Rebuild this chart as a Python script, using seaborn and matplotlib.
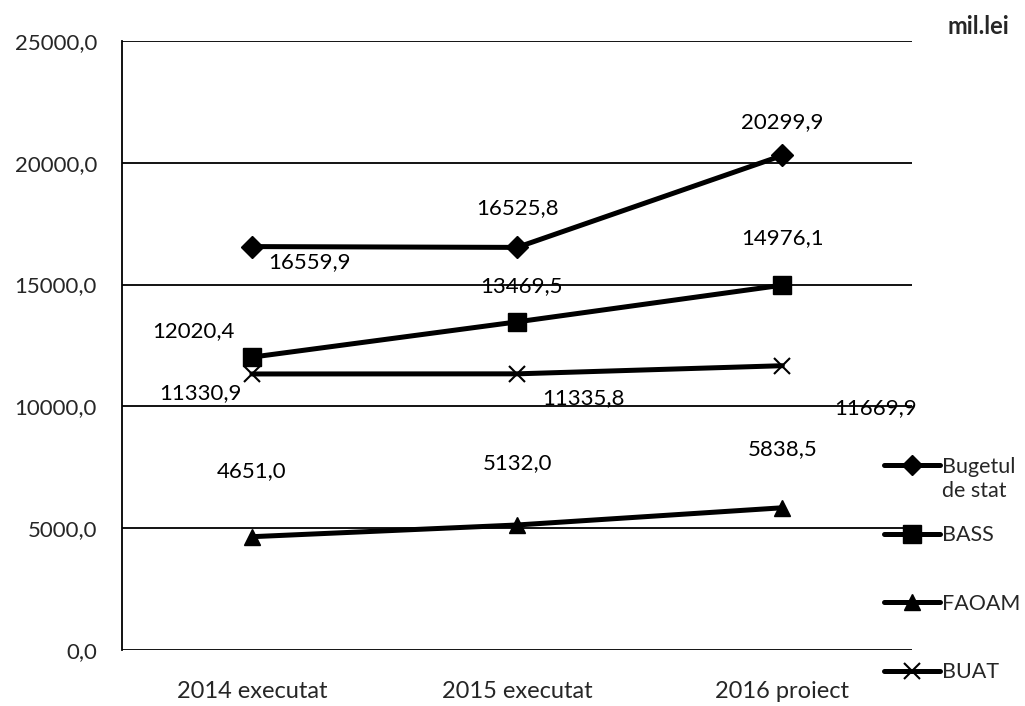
import matplotlib
matplotlib.use("Agg")
import matplotlib.pyplot as plt
import seaborn as sns
import pandas as pd
from matplotlib.lines import Line2D

categories = ["2014 executat", "2015 executat", "2016 proiect"]
bugetul = [16559.9, 16525.8, 20299.9]
bass = [12020.4, 13469.5, 14976.1]
faoam = [4651.0, 5132.0, 5838.5]
buat = [11330.9, 11335.8, 11669.9]
series_names = ["Bugetul de stat", "BASS", "FAOAM", "BUAT"]
yticks = [0, 5000, 10000, 15000, 20000, 25000]
unit_label = "mil.lei"

sns.set_theme(style="white")
plt.rcParams["font.family"] = ["Lato", "DejaVu Sans"]

rows = []
for name, vals in zip(series_names, [bugetul, bass, faoam, buat]):
    for c, v in zip(categories, vals):
        rows.append({"cat": c, "val": v, "series": name})
df = pd.DataFrame(rows)

markers = {"Bugetul de stat": "D", "BASS": "s", "FAOAM": "^", "BUAT": "x"}
msizes = {"Bugetul de stat": 11, "BASS": 13.5, "FAOAM": 12, "BUAT": 12}

fig = plt.figure(figsize=(10.25, 7.06), dpi=100)
ax = fig.add_axes([0.119, 0.0793, 0.771, 0.8627])

for name in series_names:
    sub = df[df.series == name]
    sns.lineplot(data=sub, x="cat", y="val", ax=ax, color="black", linewidth=3.6,
                 marker=markers[name], markersize=msizes[name],
                 markeredgecolor="black", markerfacecolor="black",
                 markeredgewidth=1.5 if name == "BUAT" else 1.0,
                 sort=False, legend=False)

ax.set_ylim(0, 25000)
ax.set_xlim(-0.49, 2.49)
ax.set_yticks(yticks)
ax.set_yticklabels([f"{t:.1f}".replace(".", ",") for t in yticks], fontsize=16)
ax.set_xticks(range(len(categories)))
ax.set_xticklabels(categories, fontsize=17)
ax.tick_params(axis="y", length=0, pad=18)
ax.tick_params(axis="x", length=0, pad=22)
ax.set_xlabel("")
ax.set_ylabel("")
ax.yaxis.grid(True, color="black", linewidth=1.3)
ax.set_axisbelow(True)
for s in ["top", "right", "bottom"]:
    ax.spines[s].set_visible(False)
ax.spines["left"].set_color("black")
ax.spines["left"].set_linewidth(1.3)

def fmt(v):
    return f"{v:.1f}".replace(".", ",")

offsets = {
    "Bugetul de stat": [(58, -16), (0, 39), (0, 33)],
    "BASS": [(-59, 26), (4, 36), (0, 47)],
    "FAOAM": [(0, 66), (0, 62), (0, 59)],
    "BUAT": [(-52, -19), (66, -24), (93, -42)],
}
for name, vals in zip(series_names, [bugetul, bass, faoam, buat]):
    for i, v in enumerate(vals):
        dx, dy = offsets[name][i]
        ax.annotate(fmt(v), (i, v), xytext=(dx, dy), textcoords="offset pixels",
                    ha="center", va="center", fontsize=16, color="black")

handles = [Line2D([], [], color="black", linewidth=3.6, marker=markers[n],
                  markersize=msizes[n] - 1, markerfacecolor="black",
                  markeredgecolor="black", markeredgewidth=1.5 if n == "BUAT" else 1.0)
           for n in series_names]
labels = ["Bugetul", "BASS", "FAOAM", "BUAT"]
leg = fig.legend(handles, labels, loc="upper left", bbox_to_anchor=(0.862, 0.353),
                 frameon=False, fontsize=15.5, handlelength=2.6, handletextpad=0.1,
                 labelspacing=2.25, borderaxespad=0, borderpad=0)
fig.text(942 / 1025, 1 - 491 / 706, "de stat", fontsize=15.5, ha="left", va="center")
fig.text(978 / 1025, 1 - 27 / 706, unit_label, fontsize=17, fontweight="bold",
         ha="center", va="center")

fig.savefig("out.png", dpi=100)
